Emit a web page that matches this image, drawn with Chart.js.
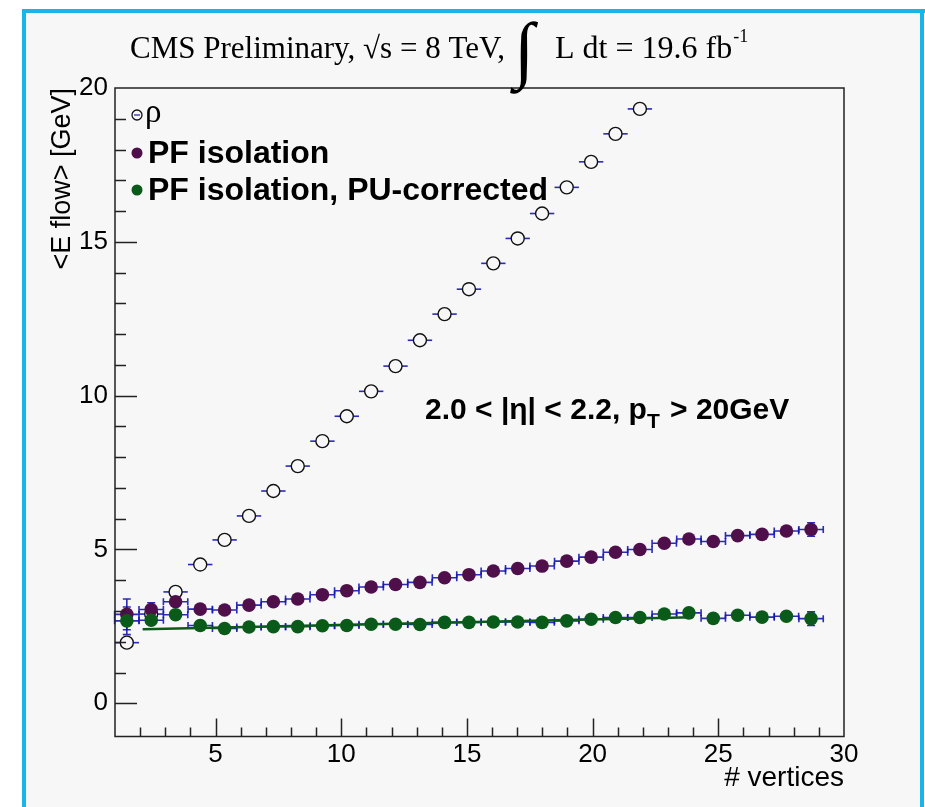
<!DOCTYPE html>
<html>
<head>
<meta charset="utf-8">
<script src="https://cdn.jsdelivr.net/npm/chart.js@4.4.1/dist/chart.umd.min.js"></script>
<style>
  html, body { margin: 0; padding: 0; background: #fff; }
  #grafica { display: block; }
</style>
</head>
<body>
<canvas id="grafica" width="925" height="807"></canvas>
<script>
// Datos: <E flow> frente a # vertices
const vertices = [1.47, 2.44, 3.41, 4.39, 5.36, 6.33, 7.30, 8.27, 9.25, 10.22, 11.19, 12.16, 13.13, 14.11, 15.08,
                  16.05, 17.02, 17.99, 18.97, 19.94, 20.91, 21.88, 22.85, 23.83, 24.80, 25.77, 26.74, 27.71, 28.69];
const rho = [1.97, 2.9, 3.62, 4.51, 5.31, 6.09, 6.9, 7.71, 8.52, 9.33, 10.14, 10.96, 11.8, 12.65, 13.46,
             14.3, 15.11, 15.92, 16.77, 17.6, 18.51, 19.32];
const pfIso = [2.89, 3.05, 3.3, 3.06, 3.03, 3.19, 3.3, 3.39, 3.53, 3.66, 3.78, 3.86, 3.93, 4.08, 4.18,
               4.30, 4.38, 4.46, 4.62, 4.75, 4.91, 5.0, 5.2, 5.34, 5.26, 5.45, 5.49, 5.6, 5.65];
const pfIsoPU = [2.68, 2.7, 2.88, 2.53, 2.43, 2.48, 2.49, 2.49, 2.52, 2.53, 2.57, 2.57, 2.56, 2.63, 2.63,
                 2.64, 2.64, 2.63, 2.68, 2.73, 2.79, 2.79, 2.9, 2.94, 2.76, 2.86, 2.8, 2.83, 2.75];
const errPfIso = [0.5, 0.22, 0.12, 0.06, 0.05, 0.05, 0.05, 0.05, 0.05, 0.05, 0.05, 0.05, 0.05, 0.05, 0.05,
                  0.05, 0.05, 0.05, 0.05, 0.05, 0.06, 0.06, 0.06, 0.07, 0.08, 0.08, 0.1, 0.12, 0.22];
const errPfIsoPU = [0.45, 0.19, 0.1, 0.05, 0.05, 0.05, 0.05, 0.05, 0.05, 0.05, 0.05, 0.05, 0.05, 0.05, 0.05,
                    0.05, 0.05, 0.05, 0.05, 0.05, 0.06, 0.06, 0.06, 0.07, 0.08, 0.08, 0.1, 0.12, 0.22];
const semiAnchoBin = 0.485;
// recta del ajuste (PU-corrected)
const ajusteX = [2.1, 24.0];
const ajusteY = [2.41, 2.8];
const ticksX = [5, 10, 15, 20, 25, 30];
const ticksY = [0, 5, 10, 15, 20];

const colorMorado = '#4e0f4b';
const colorVerde = '#0a5a1a';
const colorError = 'rgba(20, 20, 175, 0.9)';
const fondo = '#f7f7f7';

const aPuntos = (xs, ys) => ys.map((y, i) => ({ x: xs[i], y: y }));

// Fondo gris con el marco cian
const pluginFondo = {
    id: 'fondo',
    beforeDraw(chart) {
        const ctx = chart.ctx;
        ctx.save();
        ctx.fillStyle = '#ffffff';
        ctx.fillRect(0, 0, chart.width, chart.height);
        ctx.fillStyle = fondo;
        ctx.fillRect(24, 11, 898, chart.height - 11);
        ctx.fillStyle = '#19b4e8';
        ctx.fillRect(22, 9, 903, 4);
        ctx.fillRect(22, 9, 4, chart.height - 9);
        ctx.fillRect(920, 9, 4, chart.height - 9);
        ctx.restore();
    }
};

// Barras de error (horizontales = ancho del bin, verticales = errY)
const pluginErrores = {
    id: 'errores',
    beforeDatasetsDraw(chart) {
        const ctx = chart.ctx;
        const xs = chart.scales.x, ys = chart.scales.y;
        ctx.save();
        ctx.strokeStyle = colorError;
        ctx.lineWidth = 1.6;
        chart.data.datasets.forEach(ds => {
            if (!ds.conError) return;
            ds.data.forEach((p, i) => {
                const px = xs.getPixelForValue(p.x);
                const py = ys.getPixelForValue(p.y);
                const x0 = xs.getPixelForValue(p.x - semiAnchoBin);
                const x1 = xs.getPixelForValue(p.x + semiAnchoBin);
                ctx.beginPath();
                ctx.moveTo(x0, py); ctx.lineTo(x1, py);
                if (ds.tapas) {
                    ctx.moveTo(x0, py - 3.5); ctx.lineTo(x0, py + 3.5);
                    ctx.moveTo(x1, py - 3.5); ctx.lineTo(x1, py + 3.5);
                }
                if (ds.errY) {
                    const yTop = ys.getPixelForValue(p.y + ds.errY[i]);
                    const yBot = ys.getPixelForValue(p.y - ds.errY[i]);
                    if (yBot - yTop > 12) {
                        ctx.moveTo(px, yTop); ctx.lineTo(px, yBot);
                        ctx.moveTo(px - 4, yTop); ctx.lineTo(px + 4, yTop);
                        ctx.moveTo(px - 4, yBot); ctx.lineTo(px + 4, yBot);
                    }
                }
                ctx.stroke();
            });
        });
        ctx.restore();
    }
};

// Marco y marcas de los ejes (hacia dentro, estilo ROOT)
const pluginMarco = {
    id: 'marco',
    afterDatasetsDraw(chart) {
        const ctx = chart.ctx;
        const a = chart.chartArea;
        const xs = chart.scales.x, ys = chart.scales.y;
        ctx.save();
        ctx.strokeStyle = '#222';
        ctx.lineWidth = 1.5;
        ctx.strokeRect(a.left, a.top, a.right - a.left, a.bottom - a.top);
        ctx.beginPath();
        for (let v = 2; v <= 29; v++) {
            const px = Math.round(xs.getPixelForValue(v)) + 0.5;
            const largo = v % 5 === 0 ? 18 : 9;
            ctx.moveTo(px, a.bottom); ctx.lineTo(px, a.bottom - largo);
        }
        for (let v = 0; v <= 19; v++) {
            const py = Math.round(ys.getPixelForValue(v)) + 0.5;
            const largo = v % 5 === 0 ? 22 : 11;
            ctx.moveTo(a.left, py); ctx.lineTo(a.left + largo, py);
        }
        ctx.stroke();
        ctx.restore();
    }
};

// Título, leyenda y texto de la región en eta
const pluginTextos = {
    id: 'textos',
    afterDraw(chart) {
        const ctx = chart.ctx;
        ctx.save();
        ctx.fillStyle = '#000';
        ctx.textBaseline = 'alphabetic';
        ctx.textAlign = 'left';

        // título
        const base = 58;
        ctx.font = '31px "Liberation Serif"';
        ctx.fillText('CMS Preliminary, \u221As = 8 TeV,', 130, base);
        ctx.font = 'bold 74px "Liberation Serif"';
        ctx.fillText('\u222B', 514, base + 16);
        ctx.font = '32px "Liberation Serif"';
        const parte2 = 'L dt = 19.6 fb';
        ctx.fillText(parte2, 555, base);
        const xf = 555 + ctx.measureText(parte2).width;
        ctx.font = '18px "Liberation Serif"';
        ctx.fillText('-1', xf + 1, base - 16);

        // leyenda
        ctx.textBaseline = 'middle';
        ctx.strokeStyle = '#111';
        ctx.lineWidth = 1.3;
        ctx.beginPath();
        ctx.arc(137, 115, 5, 0, Math.PI * 2);
        ctx.stroke();
        ctx.strokeStyle = colorError;
        ctx.beginPath();
        ctx.moveTo(134, 115); ctx.lineTo(140, 115);
        ctx.stroke();
        ctx.font = '33px "Liberation Serif"';
        ctx.fillText('\u03C1', 145, 113);

        ctx.fillStyle = colorMorado;
        ctx.beginPath(); ctx.arc(137, 153, 5.5, 0, Math.PI * 2); ctx.fill();
        ctx.fillStyle = colorVerde;
        ctx.beginPath(); ctx.arc(137, 190, 5.5, 0, Math.PI * 2); ctx.fill();
        ctx.fillStyle = '#000';
        ctx.font = 'bold 32px "Liberation Sans"';
        ctx.fillText('PF isolation', 148, 154);
        ctx.fillText('PF isolation, PU-corrected', 148, 191);

        // región
        ctx.textBaseline = 'alphabetic';
        ctx.font = 'bold 30px "Liberation Sans"';
        let xr = 425;
        const yr = 419;
        const r1 = '2.0 < |\u03B7| < 2.2, p';
        ctx.fillText(r1, xr, yr);
        xr += ctx.measureText(r1).width;
        ctx.font = 'bold 21px "Liberation Sans"';
        ctx.fillText('T', xr, yr + 9);
        xr += ctx.measureText('T').width + 2;
        ctx.font = 'bold 30px "Liberation Sans"';
        ctx.fillText(' > 20GeV', xr, yr);
        ctx.restore();
    }
};

const ctx = document.getElementById('grafica').getContext('2d');
const grafica = new Chart(ctx, {
    type: 'scatter',
    data: {
        datasets: [
            {
                label: '\u03C1',
                data: aPuntos(vertices, rho),
                pointRadius: 6.5,
                borderColor: '#111',
                borderWidth: 1.4,
                backgroundColor: fondo,
                conError: true,
                tapas: false,
                order: 3
            },
            {
                label: 'PF isolation',
                data: aPuntos(vertices, pfIso),
                pointRadius: 6.8,
                borderColor: colorMorado,
                borderWidth: 0,
                backgroundColor: colorMorado,
                conError: true,
                tapas: true,
                errY: errPfIso,
                order: 2
            },
            {
                label: 'PF isolation, PU-corrected',
                data: aPuntos(vertices, pfIsoPU),
                pointRadius: 6.8,
                borderColor: colorVerde,
                borderWidth: 0,
                backgroundColor: colorVerde,
                conError: true,
                tapas: true,
                errY: errPfIsoPU,
                order: 1
            },
            {
                type: 'line',
                label: 'ajuste',
                data: aPuntos(ajusteX, ajusteY),
                borderColor: colorVerde,
                borderWidth: 2.5,
                pointRadius: 0,
                showLine: true,
                fill: false,
                order: 0
            }
        ]
    },
    options: {
        responsive: false,
        animation: false,
        devicePixelRatio: 1,
        layout: { padding: { left: 0, top: 88, right: 81, bottom: 0 } },
        plugins: {
            legend: { display: false },
            tooltip: { enabled: false }
        },
        scales: {
            x: {
                type: 'linear',
                min: 1,
                max: 30,
                grid: { display: false, drawTicks: false },
                border: { display: false },
                afterBuildTicks: s => { s.ticks = ticksX.map(v => ({ value: v })); },
                afterFit: s => { s.height = 70.5; },
                ticks: {
                    color: '#000',
                    padding: 3,
                    maxRotation: 0,
                    autoSkip: false,
                    font: { family: 'Liberation Sans', size: 26 }
                },
                title: {
                    display: true,
                    text: '# vertices',
                    align: 'end',
                    color: '#000',
                    padding: { top: 0, bottom: 12 },
                    font: { family: 'Liberation Sans', size: 28 }
                }
            },
            y: {
                type: 'linear',
                min: -1.08,
                max: 20,
                grid: { display: false, drawTicks: false },
                border: { display: false },
                afterBuildTicks: s => { s.ticks = ticksY.map(v => ({ value: v })); },
                afterFit: s => { s.width = 115; },
                ticks: {
                    color: '#000',
                    padding: 7,
                    autoSkip: false,
                    font: { family: 'Liberation Sans', size: 26 }
                },
                title: {
                    display: true,
                    text: '<E flow> [GeV]',
                    align: 'end',
                    color: '#000',
                    padding: { top: 46, bottom: 0 },
                    font: { family: 'Liberation Sans', size: 27 }
                }
            }
        }
    },
    plugins: [pluginFondo, pluginErrores, pluginMarco, pluginTextos]
});
</script>
</body>
</html>
